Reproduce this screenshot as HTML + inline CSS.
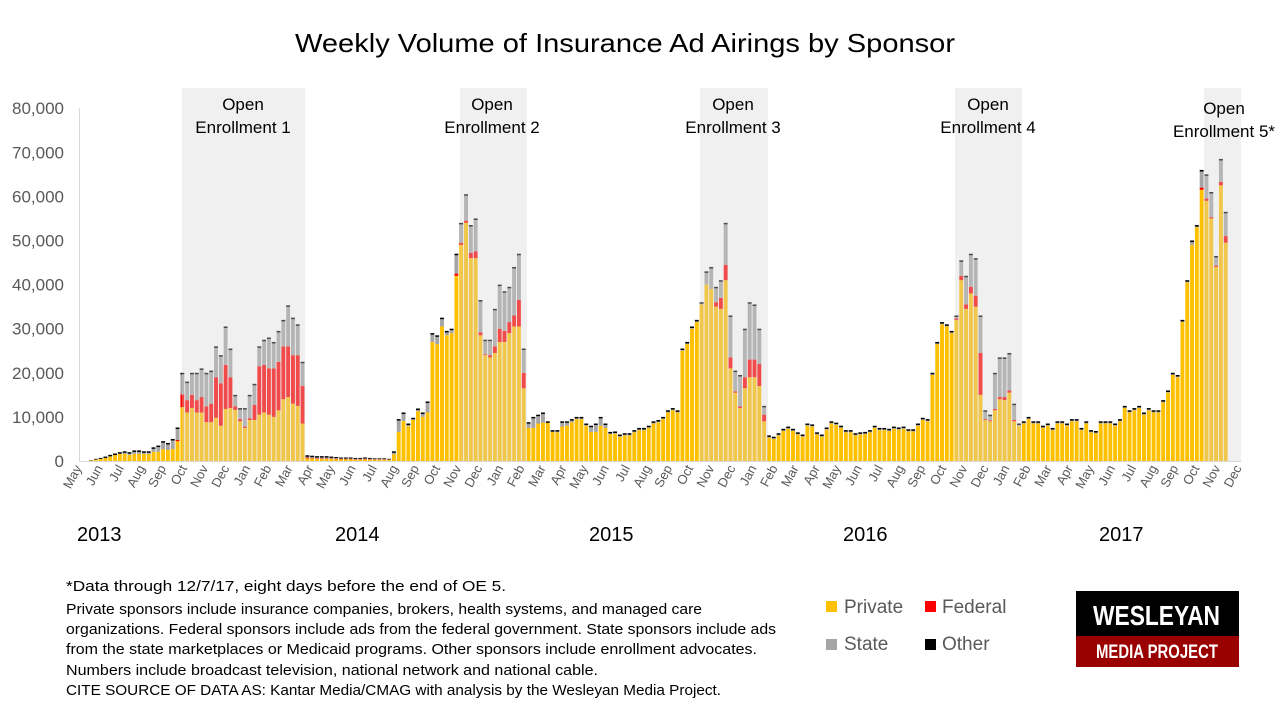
<!DOCTYPE html>
<html><head><meta charset="utf-8"><style>
html,body{margin:0;padding:0;background:#fff;}
svg{display:block;font-family:"Liberation Sans",sans-serif;}
</style></head><body>
<svg id="s" width="1280" height="720" viewBox="0 0 1280 720" xmlns="http://www.w3.org/2000/svg">
<text x="625" y="52" font-size="26" text-anchor="middle" textLength="660" lengthAdjust="spacingAndGlyphs" fill="#000">Weekly Volume of Insurance Ad Airings by Sponsor</text>
<g id="bars"></g>
<g id="shade" fill="rgba(212,212,212,0.35)">
<rect x="182" y="88" width="123" height="373"/>
<rect x="460" y="88" width="67" height="373"/>
<rect x="700" y="88" width="68" height="373"/>
<rect x="955" y="88" width="67" height="373"/>
<rect x="1204" y="88" width="37" height="373"/>
</g>
<line x1="79.5" y1="108" x2="79.5" y2="461" stroke="#D9D9D9"/>
<line x1="79" y1="461.5" x2="1241" y2="461.5" stroke="#D9D9D9"/>
<g font-size="17" fill="#595959" text-anchor="end" id="ylab"></g>
<g font-size="17" fill="#000" text-anchor="middle">
<text x="243" y="110">Open</text><text x="243" y="133">Enrollment 1</text>
<text x="492" y="110">Open</text><text x="492" y="133">Enrollment 2</text>
<text x="733" y="110">Open</text><text x="733" y="133">Enrollment 3</text>
<text x="988" y="110">Open</text><text x="988" y="133">Enrollment 4</text>
<text x="1224" y="114">Open</text><text x="1224" y="137">Enrollment 5*</text>
</g>
<g font-size="13" fill="#595959" text-anchor="end" id="mlab"></g>
<g font-size="20" fill="#000">
<text x="77" y="541">2013</text><text x="335" y="541">2014</text><text x="589" y="541">2015</text><text x="843" y="541">2016</text><text x="1099" y="541">2017</text>
</g>
<g font-size="14.5" fill="#000">
<text x="66" y="591" textLength="440" lengthAdjust="spacingAndGlyphs">*Data through 12/7/17, eight days before the end of OE 5.</text>
<text x="66" y="614" textLength="636" lengthAdjust="spacingAndGlyphs">Private sponsors include insurance companies, brokers, health systems, and managed care</text>
<text x="66" y="634" textLength="710" lengthAdjust="spacingAndGlyphs">organizations. Federal sponsors include ads from the federal government. State sponsors include ads</text>
<text x="66" y="654" textLength="691" lengthAdjust="spacingAndGlyphs">from the state marketplaces  or Medicaid programs. Other sponsors include enrollment advocates.</text>
<text x="66" y="675" textLength="532" lengthAdjust="spacingAndGlyphs">Numbers include broadcast television, national network and national cable.</text>
<text x="66" y="695" textLength="655" lengthAdjust="spacingAndGlyphs">CITE SOURCE OF DATA AS: Kantar Media/CMAG with analysis by the Wesleyan Media Project.</text>
</g>
<g font-size="19" fill="#595959">
<rect x="826" y="601" width="11" height="11" fill="#FFC000"/><text x="844" y="613">Private</text>
<rect x="925" y="601" width="11" height="11" fill="#FF0000"/><text x="942" y="613">Federal</text>
<rect x="826" y="639" width="11" height="11" fill="#A5A5A5"/><text x="844" y="650">State</text>
<rect x="925" y="639" width="11" height="11" fill="#000"/><text x="942" y="650">Other</text>
</g>
<rect x="1076" y="591" width="163" height="45" fill="#000"/>
<rect x="1076" y="636" width="163" height="31" fill="#9B0000"/>
<text x="1156.5" y="625" font-size="28" font-weight="bold" fill="#fff" text-anchor="middle" textLength="127" lengthAdjust="spacingAndGlyphs">WESLEYAN</text>
<text x="1157" y="658" font-size="19" font-weight="bold" fill="#fff" text-anchor="middle" textLength="122" lengthAdjust="spacingAndGlyphs">MEDIA PROJECT</text>
</svg>
<script>
var NS="http://www.w3.org/2000/svg";
function el(p,t,a,txt){var e=document.createElementNS(NS,t);for(var k in a)e.setAttribute(k,a[k]);if(txt!=null)e.textContent=txt;p.appendChild(e);return e;}
var D=".2,.1;.5,.3;.7,.5;1,.8;1.4,1;1.7,1.4;2,1.6;2.2,1.6;2,1.4;2.4,1.6;2.4,1.6;2.2,1.6;2.2,1.6;3.1,2.1;3.5,2.1;4.5,2.7;4.1,2.5;5,2.7;7.6,4.5,4.8;"+
"20,12.2,15.1;18,11,13.8;20,12,15;20,11,13.8;21,11,14.5;20,8.8,12.4;20.5,8.8,13;26,9.8,19;24,8,17.6;30.5,11.8,21.8;25.5,12,19;15,11.6,12.4;12,9,9.5;12,7.5,7.8;15,9.3,9.7;17.5,9.3,12.7;26,10.5,21.5;27.5,11,21.8;28,10.5,21;27,10,21;29.5,11.5,22.5;32,14,26;35.3,14.5,26;32.5,13,24;31,12.5,24;22.5,8.5,17;"+
"1.3,.6,.8;1.2,.6,.7;1.1,.5,.6;1.1,.5,.6;1.1,.5,.6;1,.5,.6;.9,.4,.5;.8,.4,.5;.8,.4,.5;.8,.4,.5;.7,.3,.4;.7,.3,.4;.8,.4,.5;.7,.3,.4;.6,.3,.35;.6,.3,.35;.6,.3,.35;"+
".5,.3;2.2,1.5;9.5,6.6;11,9.1;8.5,7.9;9.8,9.3;11.9,11.3;11,10;13.5,11;29,27;28.5,26.5;32.5,30.5;29.5,28.5;30,29;47,42,42.5;54,49,49.5;60.5,54,54.5;53.5,46,47.2;55,46,47.5;36.5,28.5,29.2;27.5,24,24.2;27.5,23.5,24;34.5,24.5,26;40,27,30;38.5,27,29.5;39.5,29,31.5;44,30.5,33;47,30.5,36.5;25.5,16.5,20;"+
"8.8,7.5;10,7.5;10.5,8.5;11,8.7;9,8.7;7,6.6;7,6.5;9,7.8;9,8;9.5,8.8;10,9.5;10,9.5;8.5,8;8,6.6;8.5,6.6;10,8;8.5,7.5;6.6;6.7;6;6.3;6.3;7;7.5;7.5;8;9;9.3;10;11.5;12;11.5;25.5;27;30.5;32;36;43,40;"+
"44,39,39;39.5,35,36;41,34.5,37;54,41,44.5;33,21,23.5;20.5,15.5,15.8;19.5,12,12.4;30,16.5,19;36,19,23;35.5,19,23;30,17,22;12.5,9,10.5;"+
"5.8;5.5;6.3;7.3;7.8;7.3;6.5;6;8.5;8.3;6.5;6;7.6;9;8.7;8;7;7;6.3;6.5;6.6;7;8;7.5;7.5;7.3;7.8;7.6;7.8;7.2;7.2;8.5;9.8;9.5;"+
"20;27;31.5;31;29.5;33,32,32.3;45.5,41,42;42,34.5,35.5;47,38,39.5;46,35,37.5;33,15,24.5;11.5,9.3,9.5;10.5,9,9.2;20,11.5,11.8;23.5,14,14.5;23.5,13.8,14.5;24.5,15.5,16;13,9,9.3;8.5,8;"+
"9;10;9;9;8;8.5;7.5;9;9;8.5;9.5;9.5;7.5;9;7;6.8;9;9;9;8.5;9.5;12.5;11.5;12;12.5;11;12;11.5;11.5;13.8;16;20;19.5;32;41;50,49;53.5,53;66,61.5,62;65,59,59.5;61,55,55.3;46.5,44,44.3;68.5,62.5,63.3;56.5,49.5,51";
var rows=D.split(";");var g=document.getElementById("bars");
function Y(v){return 461-v*4.41;}
var pitch=(1225.7-91)/(rows.length-1);
for(var i=0;i<rows.length;i++){
 var a=rows[i].split(",").map(Number);var t=a[0];
 var p=a.length>1?a[1]:Math.max(t-0.5,t*0.9);var f=a.length>2?a[2]:p;
 var o=Math.min(0.35,t*0.3);
 var x=91+i*pitch-1.95,w=3.9;
 el(g,"rect",{x:x,y:Y(p),width:w,height:p*4.41,fill:"#FFC000"});
 if(f>p)el(g,"rect",{x:x,y:Y(f),width:w,height:(f-p)*4.41,fill:"#FF0000"});
 if(t-o>f)el(g,"rect",{x:x,y:Y(t-o),width:w,height:(t-o-f)*4.41,fill:"#A5A5A5"});
 el(g,"rect",{x:x,y:Y(t),width:w,height:o*4.41,fill:"#000"});
}
var yl=document.getElementById("ylab");
for(var k=0;k<=8;k++){el(yl,"text",{x:64,y:Y(k*10)+6},k==0?"0":(k*10)+",000");}
var M=["May","Jun","Jul","Aug","Sep","Oct","Nov","Dec","Jan","Feb","Mar","Apr"];
var ml=document.getElementById("mlab");
for(var j=0;j<56;j++){var mx=76+j*21.09+6;el(ml,"text",{x:0,y:0,transform:"translate("+mx+",468) rotate(-62)"},M[j%12]);}
</script>
</body></html>
